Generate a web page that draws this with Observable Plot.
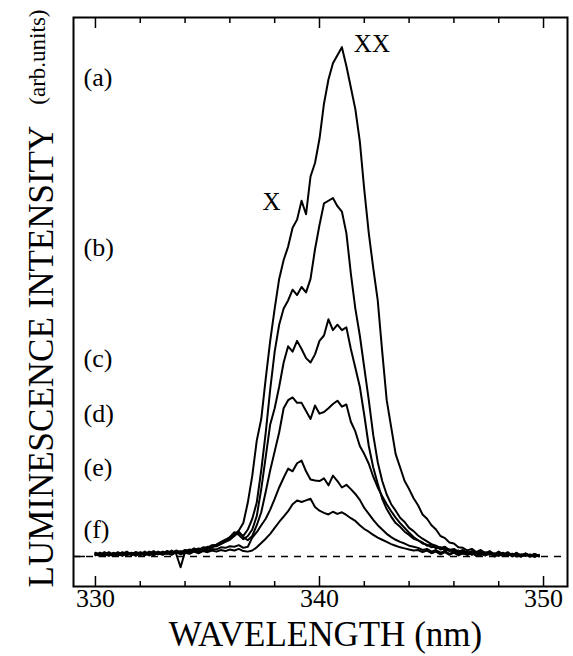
<!DOCTYPE html>
<html>
<head>
<meta charset="utf-8">
<script src="https://cdn.jsdelivr.net/npm/d3@7"></script>
<script src="https://cdn.jsdelivr.net/npm/@observablehq/plot@0.6"></script>
<style>
  body { margin: 0; background: #fff; }
  #chart svg { font-family: "Liberation Serif", "Times New Roman", serif; display: block; }
</style>
</head>
<body>
<div id="chart"></div>
<script>
// Wavelength grid (nm)
const wavelength = [
  330.0,330.2,330.4,330.6,330.8,331.0,331.2,331.4,331.6,331.8,
  332.0,332.2,332.4,332.6,332.8,333.0,333.2,333.4,333.6,333.8,
  334.0,334.2,334.4,334.6,334.8,335.0,335.2,335.4,335.6,335.8,
  336.0,336.2,336.4,336.6,336.8,337.0,337.2,337.4,337.6,337.8,
  338.0,338.2,338.4,338.6,338.8,339.0,339.2,339.4,339.6,339.8,
  340.0,340.2,340.4,340.6,340.8,341.0,341.2,341.4,341.6,341.8,
  342.0,342.2,342.4,342.6,342.8,343.0,343.2,343.4,343.6,343.8,
  344.0,344.2,344.4,344.6,344.8,345.0,345.2,345.4,345.6,345.8,
  346.0,346.2,346.4,346.6,346.8,347.0,347.2,347.4,347.6,347.8,
  348.0,348.2,348.4,348.6,348.8,349.0,349.2,349.4,349.6,349.8
];

// Luminescence intensity (arb. units), one array per spectrum
const spectrumA = [
  0.004,0.001,0.007,0.003,0.006,0.002,0.008,0.004,0.006,0.003,
  0.008,0.005,0.009,0.004,0.008,0.006,0.010,0.007,0.011,0.008,
  0.012,0.010,0.015,0.012,0.017,0.016,0.021,0.022,0.027,0.031,
  0.035,0.041,0.048,0.062,0.100,0.150,0.215,0.255,0.330,0.400,
  0.460,0.515,0.550,0.575,0.610,0.625,0.660,0.635,0.705,0.730,
  0.775,0.840,0.885,0.915,0.930,0.945,0.910,0.870,0.830,0.770,
  0.680,0.600,0.535,0.475,0.380,0.290,0.240,0.190,0.165,0.140,
  0.125,0.108,0.095,0.078,0.070,0.058,0.050,0.038,0.034,0.026,
  0.024,0.017,0.016,0.011,0.014,0.008,0.012,0.006,0.010,0.004,
  0.009,0.003,0.008,0.002,0.007,0.001,0.006,0.000,0.005,0.001
];
const spectrumB = [
  0.006,0.003,0.005,0.001,0.007,0.004,0.003,0.008,0.002,0.006,
  0.004,0.009,0.003,0.007,0.005,0.009,0.006,0.011,0.005,-0.020,
  0.009,0.013,0.010,0.015,0.013,0.018,0.017,0.022,0.024,0.028,
  0.033,0.040,0.044,0.038,0.050,0.070,0.100,0.160,0.230,0.310,
  0.380,0.430,0.460,0.475,0.495,0.485,0.500,0.490,0.515,0.570,
  0.615,0.655,0.660,0.665,0.650,0.640,0.600,0.525,0.460,0.410,
  0.350,0.290,0.225,0.175,0.140,0.115,0.097,0.085,0.072,0.064,
  0.053,0.047,0.039,0.033,0.028,0.023,0.020,0.016,0.018,0.012,
  0.014,0.009,0.012,0.006,0.010,0.004,0.009,0.003,0.007,0.002,
  0.008,0.004,0.006,0.001,0.005,0.003,0.004,0.000,0.003,0.002
];
const spectrumC = [
  0.003,0.007,0.002,0.006,0.003,0.008,0.004,0.002,0.007,0.005,
  0.002,0.007,0.006,0.010,0.004,0.008,0.005,0.009,0.007,0.010,
  0.006,0.011,0.009,0.013,0.011,0.015,0.019,0.020,0.026,0.030,
  0.036,0.045,0.040,0.032,0.038,0.050,0.075,0.125,0.185,0.245,
  0.275,0.315,0.360,0.390,0.380,0.400,0.385,0.368,0.360,0.375,
  0.400,0.410,0.440,0.420,0.430,0.420,0.425,0.385,0.350,0.315,
  0.262,0.205,0.165,0.135,0.107,0.088,0.074,0.062,0.055,0.046,
  0.040,0.033,0.030,0.024,0.022,0.017,0.019,0.013,0.015,0.010,
  0.012,0.007,0.010,0.005,0.009,0.003,0.008,0.002,0.006,0.004,
  0.001,0.006,0.002,0.005,0.000,0.004,0.001,0.004,-0.001,0.003
];
const spectrumD = [
  0.005,0.002,0.008,0.004,0.001,0.006,0.005,0.009,0.003,0.008,
  0.006,0.002,0.008,0.004,0.009,0.005,0.010,0.006,0.009,0.006,
  0.011,0.008,0.012,0.010,0.015,0.013,0.018,0.019,0.023,0.027,
  0.031,0.038,0.046,0.036,0.030,0.038,0.058,0.082,0.120,0.160,
  0.195,0.230,0.275,0.290,0.295,0.285,0.285,0.270,0.255,0.280,
  0.265,0.268,0.275,0.283,0.289,0.278,0.282,0.250,0.232,0.205,
  0.190,0.172,0.148,0.128,0.112,0.097,0.084,0.072,0.062,0.053,
  0.044,0.036,0.030,0.026,0.020,0.022,0.015,0.017,0.011,0.013,
  0.008,0.011,0.005,0.009,0.003,0.007,0.002,0.008,0.003,0.006,
  0.002,0.007,0.001,0.005,0.003,0.000,0.005,0.002,0.004,0.000
];
const spectrumE = [
  0.002,0.006,0.004,0.008,0.002,0.005,0.001,0.006,0.004,0.008,
  0.003,0.006,0.002,0.008,0.006,0.003,0.008,0.004,0.009,0.005,
  0.008,0.006,0.011,0.008,0.012,0.010,0.014,0.013,0.017,0.016,
  0.019,0.018,0.021,0.016,0.018,0.035,0.045,0.058,0.070,0.087,
  0.107,0.128,0.146,0.163,0.158,0.173,0.178,0.158,0.143,0.141,
  0.140,0.145,0.132,0.150,0.140,0.128,0.133,0.125,0.116,0.105,
  0.090,0.079,0.068,0.058,0.050,0.042,0.036,0.031,0.027,0.024,
  0.020,0.018,0.016,0.012,0.014,0.009,0.012,0.007,0.010,0.005,
  0.009,0.004,0.008,0.003,0.007,0.002,0.006,0.003,0.007,0.001,
  0.005,0.002,0.006,0.000,0.004,0.002,0.005,0.001,0.004,0.001
];
const spectrumF = [
  0.007,0.003,0.001,0.006,0.004,0.001,0.007,0.003,0.005,0.001,
  0.007,0.003,0.005,0.002,0.007,0.004,0.006,0.003,0.008,0.004,
  0.007,0.005,0.009,0.006,0.010,0.008,0.011,0.009,0.012,0.010,
  0.013,0.011,0.014,0.010,0.009,0.011,0.017,0.025,0.033,0.042,
  0.053,0.064,0.074,0.084,0.097,0.104,0.101,0.104,0.107,0.092,
  0.085,0.081,0.078,0.083,0.079,0.082,0.077,0.071,0.066,0.058,
  0.051,0.046,0.040,0.035,0.031,0.027,0.023,0.020,0.017,0.015,
  0.013,0.011,0.012,0.008,0.011,0.006,0.009,0.004,0.008,0.003,
  0.007,0.002,0.006,0.003,0.007,0.001,0.005,0.002,0.006,0.000,
  0.004,0.001,0.005,0.002,0.006,0.000,0.003,0.001,0.004,0.002
];

const spectrumNames = ["(a)", "(b)", "(c)", "(d)", "(e)", "(f)"];
// level (arb. units) at which each spectrum label is written
const spectrumLabelLevel = [0.889, 0.573, 0.367, 0.265, 0.165, 0.050];

// peak annotations
const peakNames = ["X", "XX"];
const peakWavelength = [337.86, 342.34];
const peakLevel = [0.658, 0.950];

const majorTicks = [330, 340, 350];
const minorTicks = [332, 334, 336, 338, 342, 344, 346, 348];

// build tables
const spectra = [spectrumA, spectrumB, spectrumC, spectrumD, spectrumE, spectrumF];
const rows = spectra.flatMap((vals, k) =>
  vals.map((v, i) => ({curve: spectrumNames[k], wl: wavelength[i], v}))
);
const nameRows = spectrumNames.map((n, i) => ({n, y: spectrumLabelLevel[i]}));
const peakRows = peakNames.map((n, i) => ({n, x: peakWavelength[i], y: peakLevel[i]}));

const blank = () => "";

const chart = Plot.plot({
  width: 573,
  height: 656,
  marginLeft: 73,
  marginRight: 6,
  marginTop: 17,
  marginBottom: 70,
  x: {domain: [329.02, 351.07]},
  y: {domain: [-0.0557, 1]},
  style: {background: "white", color: "black", fontFamily: "'Liberation Serif', 'Times New Roman', serif"},
  marks: [
    Plot.ruleY([0], {stroke: "black", strokeWidth: 1.5, strokeDasharray: "7,6"}),
    Plot.line(rows, {x: "wl", y: "v", z: "curve", stroke: "black", strokeWidth: 2, strokeLinejoin: "round"}),
    Plot.frame({stroke: "black", strokeWidth: 2}),
    // inward ticks
    Plot.axisX(majorTicks, {anchor: "bottom", tickSize: -10, strokeWidth: 1.5, tickFormat: blank, label: null}),
    Plot.axisX(minorTicks, {anchor: "bottom", tickSize: -5, strokeWidth: 1.5, tickFormat: blank, label: null}),
    Plot.axisX(majorTicks, {anchor: "top", tickSize: -10, strokeWidth: 1.5, tickFormat: blank, label: null}),
    Plot.axisX(minorTicks, {anchor: "top", tickSize: -5, strokeWidth: 1.5, tickFormat: blank, label: null}),
    Plot.axisY([0], {anchor: "left", tickSize: -12, strokeWidth: 1.5, tickFormat: blank, label: null}),
    // tick labels
    Plot.axisX(majorTicks, {anchor: "bottom", tickSize: 0, tickPadding: 2.5, fontSize: 26, tickFormat: d => String(d), label: null}),
    // axis titles
    Plot.text(["WAVELENGTH (nm)"], {frameAnchor: "bottom", lineAnchor: "top", dx: 5, dy: 35, fontSize: 35, fill: "black"}),
    Plot.text(["LUMINESCENCE INTENSITY"], {frameAnchor: "bottom-left", rotate: -90, textAnchor: "start", lineAnchor: "top", dx: -45, dy: 1, fontSize: 35, fill: "black"}),
    Plot.text(["(arb.units)"], {frameAnchor: "top-left", rotate: -90, textAnchor: "end", lineAnchor: "top", dx: -45, dy: -8, fontSize: 23, fill: "black"}),
    // spectrum labels
    Plot.text(nameRows, {y: "y", text: "n", frameAnchor: "left", textAnchor: "start", dx: 10, fontSize: 26, fill: "black"}),
    // peak labels
    Plot.text(peakRows, {x: "x", y: "y", text: "n", fontSize: 25, fill: "black"})
  ]
});
document.getElementById("chart").appendChild(chart);
</script>
</body>
</html>
